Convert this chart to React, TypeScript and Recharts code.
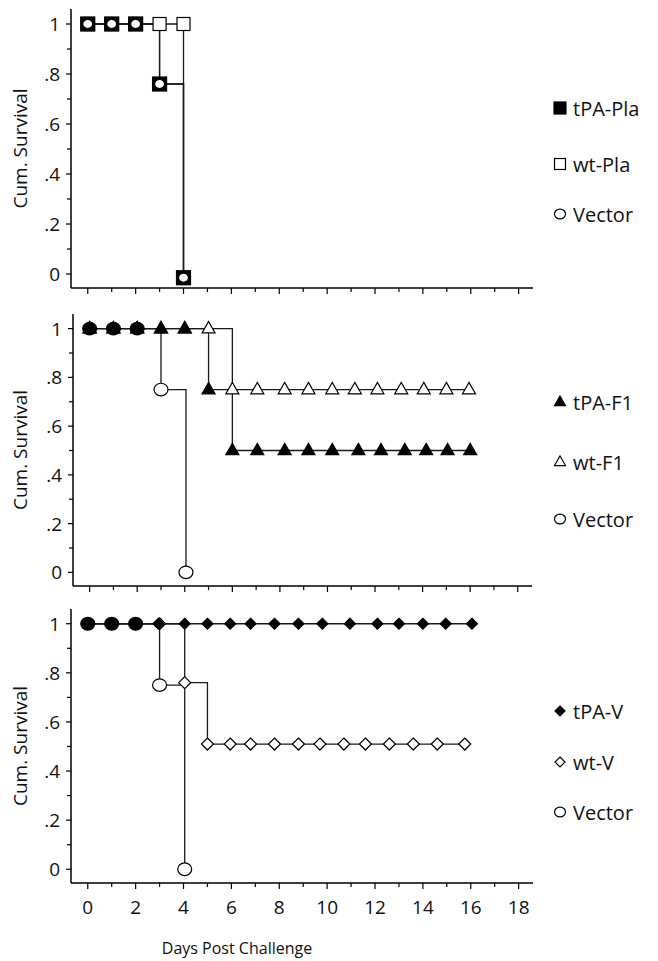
import React from 'react';
import { LineChart, Line, XAxis, YAxis, Legend } from 'recharts';

const FONT = "'Open Sans', sans-serif";

// ---------- data ----------
const xTicks = [0, 1, 2, 3, 4, 5, 6, 7, 8, 9, 10, 11, 12, 13, 14, 15, 16, 17, 18];
const yTicks = [0, 0.1, 0.2, 0.3, 0.4, 0.5, 0.6, 0.7, 0.8, 0.9, 1];
const yTickLabels: Record<string, string> = { '0': '0', '0.2': '.2', '0.4': '.4', '0.6': '.6', '0.8': '.8', '1': '1' };

// Panel 1 (Pla)
const p1WtDays = [0, 1, 2, 3, 4, 4];
const p1WtSurv = [1, 1, 1, 1, 1, -0.015];
const p1TpaDays = [0, 1, 2, 3, 4];
const p1TpaSurv = [1, 1, 1, 0.76, -0.015];
const p1VecDays = [0, 1, 2, 3, 4];
const p1VecSurv = [1, 1, 1, 0.76, -0.015];

// Panel 2 (F1)
const p2VecDays = [0, 1, 2, 3, 4.05];
const p2VecSurv = [1, 1, 1, 0.75, 0];
const p2WtDays = [0, 1, 2, 3, 4, 5, 6, 7.05, 8.2, 9.2, 10.2, 11.15, 12.1, 13.1, 14.05, 15, 15.95];
const p2WtSurv = [1, 1, 1, 1, 1, 1, 0.75, 0.75, 0.75, 0.75, 0.75, 0.75, 0.75, 0.75, 0.75, 0.75, 0.75];
const p2TpaDays = [0, 1, 2, 3, 4, 5, 6, 7.05, 8.2, 9.2, 10.2, 11.3, 12.25, 13.25, 14.15, 15.05, 16];
const p2TpaSurv = [1, 1, 1, 1, 1, 0.75, 0.5, 0.5, 0.5, 0.5, 0.5, 0.5, 0.5, 0.5, 0.5, 0.5, 0.5];

// Panel 3 (V)
const p3VecDays = [0, 1, 2, 3, 4.05];
const p3VecSurv = [1, 1, 1, 0.75, 0];
const p3WtDays = [0, 1, 2, 3, 4.05, 5, 5.95, 6.8, 7.8, 8.8, 9.7, 10.7, 11.6, 12.6, 13.6, 14.6, 15.75];
const p3WtSurv = [1, 1, 1, 1, 0.76, 0.51, 0.51, 0.51, 0.51, 0.51, 0.51, 0.51, 0.51, 0.51, 0.51, 0.51, 0.51];
const p3TpaDays = [0, 1, 2, 2.95, 4.05, 5, 5.95, 6.8, 7.8, 8.8, 9.8, 10.95, 12.1, 13, 14, 14.95, 16.05];
const p3TpaSurv = [1, 1, 1, 1, 1, 1, 1, 1, 1, 1, 1, 1, 1, 1, 1, 1, 1];

type Pt = { day: number; surv: number };
const zip = (d: number[], s: number[]): Pt[] => d.map((day, i) => ({ day, surv: s[i] }));

// ---------- markers ----------
type Shape = 'square' | 'circle' | 'triangle' | 'diamond';
function Marker({ shape, cx, cy, size, fill }: { shape: Shape; cx: number; cy: number; size: number; fill: string }) {
  const h = size / 2;
  const sw = 1.2;
  if (shape === 'square')
    return <rect x={cx - h} y={cy - h} width={size} height={size} fill={fill} stroke="#000" strokeWidth={sw} />;
  if (shape === 'circle')
    return <ellipse cx={cx} cy={cy} rx={h} ry={h * 0.9} fill={fill} stroke="#000" strokeWidth={sw} />;
  if (shape === 'triangle')
    return (
      <polygon
        points={`${cx},${cy - h * 1.1} ${cx + h},${cy + h * 0.65} ${cx - h},${cy + h * 0.65}`}
        fill={fill}
        stroke="#000"
        strokeWidth={sw}
        strokeLinejoin="miter"
      />
    );
  return (
    <polygon
      points={`${cx},${cy - h} ${cx + h},${cy} ${cx},${cy + h} ${cx - h},${cy}`}
      fill={fill}
      stroke="#000"
      strokeWidth={sw}
    />
  );
}

type Series = {
  name: string;
  data: Pt[];
  shape: Shape;
  size: number;
  fill: string;
  fillAt?: (p: Pt) => string;
};

const coincides = (ref: Pt[]) => (p: Pt) =>
  ref.some((r) => Math.abs(r.day - p.day) < 0.01 && Math.abs(r.surv - p.surv) < 0.01) ? '#000' : '#fff';

const p1Series: Series[] = [
  { name: 'wt-Pla', data: zip(p1WtDays, p1WtSurv), shape: 'square', size: 13, fill: '#fff' },
  { name: 'tPA-Pla', data: zip(p1TpaDays, p1TpaSurv), shape: 'square', size: 14, fill: '#000' },
  { name: 'Vector', data: zip(p1VecDays, p1VecSurv), shape: 'circle', size: 10, fill: '#fff' },
];
const p2Series: Series[] = [
  {
    name: 'Vector', data: zip(p2VecDays, p2VecSurv), shape: 'circle', size: 14, fill: '#fff',
    fillAt: coincides(zip(p2TpaDays, p2TpaSurv)),
  },
  { name: 'wt-F1', data: zip(p2WtDays, p2WtSurv), shape: 'triangle', size: 13, fill: '#fff' },
  { name: 'tPA-F1', data: zip(p2TpaDays, p2TpaSurv), shape: 'triangle', size: 13, fill: '#000' },
];
const p3Series: Series[] = [
  {
    name: 'Vector', data: zip(p3VecDays, p3VecSurv), shape: 'circle', size: 14, fill: '#fff',
    fillAt: coincides(zip(p3TpaDays, p3TpaSurv)),
  },
  { name: 'wt-V', data: zip(p3WtDays, p3WtSurv), shape: 'diamond', size: 12, fill: '#fff' },
  { name: 'tPA-V', data: zip(p3TpaDays, p3TpaSurv), shape: 'diamond', size: 11, fill: '#000' },
];

type LegItem = { label: string; shape: Shape; size: number; fill: string; y: number };
const p1Legend: LegItem[] = [
  { label: 'tPA-Pla', shape: 'square', size: 12, fill: '#000', y: 108 },
  { label: 'wt-Pla', shape: 'square', size: 11, fill: '#fff', y: 164 },
  { label: 'Vector', shape: 'circle', size: 11, fill: '#fff', y: 214 },
];
const p2Legend: LegItem[] = [
  { label: 'tPA-F1', shape: 'triangle', size: 11, fill: '#000', y: 102 },
  { label: 'wt-F1', shape: 'triangle', size: 11, fill: '#fff', y: 162 },
  { label: 'Vector', shape: 'circle', size: 11, fill: '#fff', y: 219 },
];
const p3Legend: LegItem[] = [
  { label: 'tPA-V', shape: 'diamond', size: 10, fill: '#000', y: 111 },
  { label: 'wt-V', shape: 'diamond', size: 10, fill: '#fff', y: 162 },
  { label: 'Vector', shape: 'circle', size: 11, fill: '#fff', y: 212 },
];

// ---------- axes parts ----------
const makeXTick = (showLabel: boolean) => (props: any) => {
  const { x, y, payload } = props;
  const v = payload.value as number;
  const major = v % 2 === 0;
  return (
    <g>
      <line x1={x} x2={x} y1={y} y2={y + (major ? 6 : 4)} stroke="#000" strokeWidth={1.2} />
      {showLabel && major && (
        <text x={x} y={y + 24} textAnchor="middle" dominantBaseline="central" fontSize={19} fontFamily={FONT} fill="#111">
          {v}
        </text>
      )}
    </g>
  );
};

const YTick = (props: any) => {
  const { x, y, payload } = props;
  const v = payload.value as number;
  const key = String(Math.round(v * 10) / 10);
  const label = yTickLabels[key];
  const major = label !== undefined;
  return (
    <g>
      <line x1={x - (major ? 5 : 4)} x2={x} y1={y} y2={y} stroke="#000" strokeWidth={1.2} />
      {major && (
        <text x={x - 11} y={y} textAnchor="end" dominantBaseline="central" fontSize={19} fontFamily={FONT} fill="#111">
          {label}
        </text>
      )}
    </g>
  );
};

const YTitle = (props: any) => {
  const vb = props.viewBox || {};
  const cy = vb.y + vb.height / 2;
  return (
    <text
      x={20}
      y={cy}
      transform={`rotate(-90, 20, ${cy})`}
      textAnchor="middle"
      dominantBaseline="central"
      fontSize={19}
      fontFamily={FONT}
      fill="#111"
    >
      Cum. Survival
    </text>
  );
};

const XTitle = (props: any) => {
  const vb = props.viewBox || {};
  return (
    <text x={237} y={vb.y + 65} textAnchor="middle" dominantBaseline="central" fontSize={16} fontFamily={FONT} fill="#111">
      Days Post Challenge
    </text>
  );
};

const X_DOMAIN: [number, number] = [-0.7, 18.6];
const Y_DOMAIN: [number, number] = [-0.056, 1.06];

function Panel({
  top, height, mLeft, mRight, mTop, plotH, xAxisH, series, legend, showLabels,
}: {
  top: number; height: number; mLeft: number; mRight: number; mTop: number; plotH: number; xAxisH: number;
  series: Series[]; legend: LegItem[]; showLabels: boolean;
}) {
  const mBottom = height - mTop - plotH - xAxisH;
  const axisLine = { stroke: '#000', strokeWidth: 1.5 };
  return (
    <div style={{ position: 'absolute', left: 0, top, width: 658, height }}>
      <LineChart width={658} height={height} margin={{ top: mTop, right: mRight, bottom: mBottom, left: 0 }}>
        <XAxis
          xAxisId={0}
          type="number"
          dataKey="day"
          domain={X_DOMAIN}
          ticks={xTicks}
          interval={0}
          allowDataOverflow
          tickSize={0}
          tickMargin={0}
          tickLine={false}
          axisLine={axisLine}
          tick={makeXTick(showLabels)}
          height={xAxisH}
          label={showLabels ? (p: any) => <XTitle {...p} /> : undefined}
        />
        <XAxis
          xAxisId="top"
          orientation="top"
          type="number"
          domain={X_DOMAIN}
          allowDataOverflow
          height={0}
          tick={false}
          tickLine={false}
          axisLine={axisLine}
        />
        <YAxis
          yAxisId={0}
          type="number"
          domain={Y_DOMAIN}
          ticks={yTicks}
          interval={0}
          allowDataOverflow
          width={mLeft}
          tickSize={0}
          tickMargin={0}
          tickLine={false}
          axisLine={axisLine}
          tick={YTick}
          label={(p: any) => <YTitle {...p} />}
        />
        <YAxis
          yAxisId="right"
          orientation="right"
          type="number"
          domain={Y_DOMAIN}
          allowDataOverflow
          width={0}
          tick={false}
          tickLine={false}
          axisLine={axisLine}
        />
        {series.map((s) => (
          <Line
            key={'l-' + s.name}
            data={s.data}
            dataKey="surv"
            type="stepAfter"
            stroke="#1a1a1a"
            strokeWidth={1.3}
            dot={false}
            activeDot={false}
            isAnimationActive={false}
            legendType="none"
          />
        ))}
        {series.map((s) => (
          <Line
            key={'d-' + s.name}
            data={s.data}
            dataKey="surv"
            type="stepAfter"
            stroke="none"
            activeDot={false}
            isAnimationActive={false}
            legendType="none"
            dot={(p: any) => (
              <Marker
                key={`${s.name}-${p.index}`}
                shape={s.shape}
                cx={p.cx}
                cy={p.cy}
                size={s.size}
                fill={s.fillAt ? s.fillAt(p.payload) : s.fill}
              />
            )}
          />
        ))}
        <Legend
          layout="vertical"
          align="center"
          verticalAlign="middle"
          wrapperStyle={{ left: 548, top: 0, width: 110, height }}
          content={() => (
            <svg width={110} height={height} style={{ display: 'block', overflow: 'visible' }}>
              {legend.map((it) => (
                <g key={it.label}>
                  <Marker shape={it.shape} cx={12} cy={it.y} size={it.size} fill={it.fill} />
                  <text x={25} y={it.y} dominantBaseline="central" fontSize={20} fontFamily={FONT} fill="#111">
                    {it.label}
                  </text>
                </g>
              ))}
            </svg>
          )}
        />
      </LineChart>
    </div>
  );
}

export default function App() {
  return (
    <div style={{ position: 'absolute', left: 0, top: 0, width: 658, height: 961, background: '#fff' }}>
      <Panel top={0} height={300} mLeft={71} mRight={125} mTop={9} plotH={279} xAxisH={12} series={p1Series} legend={p1Legend} showLabels={false} />
      <Panel top={300} height={300} mLeft={73} mRight={126} mTop={14} plotH={272} xAxisH={12} series={p2Series} legend={p2Legend} showLabels={false} />
      <Panel top={600} height={361} mLeft={71} mRight={125} mTop={9} plotH={274} xAxisH={70} series={p3Series} legend={p3Legend} showLabels={true} />
    </div>
  );
}
